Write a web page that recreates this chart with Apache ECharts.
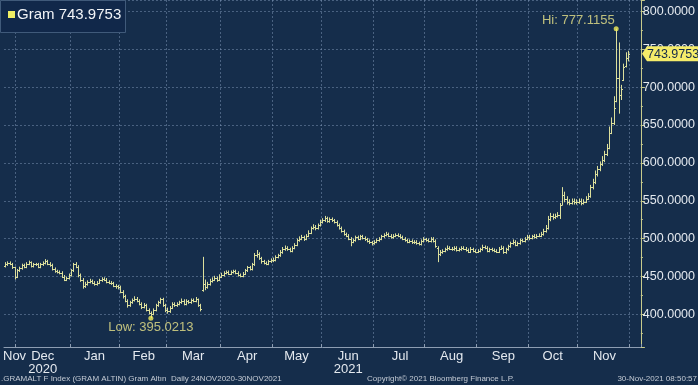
<!DOCTYPE html>
<html><head><meta charset="utf-8">
<script src="https://cdn.jsdelivr.net/npm/echarts@6/dist/echarts.min.js"></script>
<style>html,body{margin:0;padding:0;background:#152d4b;}#c{width:698px;height:385px;}</style>
</head><body><div id="c"></div>
<script>
// ---- data: daily OHLC, Gram Altin (TRY), 24 Nov 2020 - 30 Nov 2021 (weekdays) ----
const openVals = [
  464,466,468,467,462,
  450,458,461,465,463,467,469,464,466,466,463,466,468,470,467,465,460,457,456,455,450,446,448,
  452,458,466,463,452,446,438,440,443,444,442,440,442,445,447,446,443,442,441,438,437,
  436,430,424,418,412,416,419,421,418,414,410,412,406,402,400,406,412,416,420,412,
  406,404,409,414,412,414,416,418,414,418,416,419,418,420,412,432,440,436,440,444,446,448,446,
  450,452,455,456,454,456,457,455,452,451,454,458,462,460,466,478,480,474,470,468,467,470,
  472,472,476,478,482,486,488,486,484,488,492,498,500,502,500,504,508,514,516,514,518,
  522,524,527,523,526,524,522,518,514,510,506,504,500,496,498,502,500,503,501,499,497,495,
  494,496,498,500,503,505,506,504,502,504,505,504,502,500,498,496,497,495,496,494,493,497,
  499,498,497,500,497,488,480,482,484,486,488,487,486,488,485,486,488,487,485,483,486,484,
  483,484,486,489,488,484,486,485,484,483,487,488,482,486,490,494,496,492,494,498,497,500,
  502,501,503,502,504,504,506,510,514,526,530,528,530,531,545,558,552,549,547,550,548,
  549,550,547,549,553,556,568,575,585,592,598,604,612,620,640,652,682,712,690,710,728,738
];
const highVals = [
  469,470,470,468,463,
  460,463,467,467,469,471,470,468,468,468,468,470,473,472,469,467,462,459,458,457,452,450,454,
  460,468,469,465,454,448,443,445,447,446,444,444,447,449,449,448,445,444,443,440,439,
  438,432,426,420,418,421,424,423,420,416,415,414,408,404,408,414,418,422,422,414,
  409,411,416,416,416,418,421,420,420,419,421,421,423,421,414,476,446,443,447,449,451,450,453,
  455,457,458,458,458,459,459,457,454,456,460,464,464,468,481,485,482,476,472,470,472,474,
  475,478,480,485,489,491,490,488,490,494,500,503,505,504,506,511,516,519,518,520,525,
  527,530,529,528,528,526,524,520,516,512,508,506,502,500,504,504,505,505,503,501,499,497,
  498,500,502,505,507,509,508,506,506,507,507,506,504,502,500,499,499,498,498,496,499,502,
  501,500,502,502,499,490,485,486,488,491,490,489,490,490,488,490,490,489,487,489,488,486,
  486,488,492,491,490,488,488,487,486,489,491,490,488,492,496,499,498,496,500,500,502,505,
  505,505,506,506,507,509,513,518,530,534,533,533,535,547,568,562,556,552,553,553,552,
  553,553,552,556,560,571,579,590,596,602,609,616,625,648,660,688,777.1155,759,703,731,746,748
];
const lowVals = [
  462,464,465,460,446,
  448,456,459,461,461,465,462,462,464,461,461,464,466,465,463,458,455,454,453,448,444,444,446,
  450,456,461,449,443,434,435,438,441,440,438,438,440,443,444,441,440,439,436,434,433,
  428,421,416,409,410,414,417,416,412,407,408,404,400,395.0213,399,404,410,414,410,403,
  401,402,407,410,410,412,414,412,412,414,414,416,416,410,404,430,432,434,438,442,444,443,444,
  448,450,453,452,452,454,453,450,449,449,452,456,458,458,464,475,472,467,466,465,465,468,
  469,470,474,476,480,484,484,482,482,486,490,496,498,497,498,502,506,512,511,512,516,
  520,522,521,521,522,520,516,512,508,504,502,498,490,494,496,498,498,499,497,495,493,491,
  492,494,496,498,501,503,502,500,500,502,502,500,498,496,494,494,493,493,492,491,491,495,
  496,495,495,495,488,469,477,480,482,484,485,484,484,483,483,484,485,483,481,481,482,481,
  481,482,484,486,482,482,483,482,481,481,485,480,480,484,488,492,490,490,492,495,495,498,
  498,499,500,500,502,502,504,508,512,523,525,526,528,526,544,548,545,544,545,545,545,
  546,544,545,547,551,554,565,572,582,589,596,601,609,618,638,650,680,665,683,708,726,734
];
const closeVals = [
  466,468,467,462,450,
  458,461,465,463,467,469,464,466,466,463,466,468,470,467,465,460,457,456,455,450,446,448,452,
  458,466,463,452,446,438,440,443,444,442,440,442,445,447,446,443,442,441,438,437,436,
  430,424,418,412,416,419,421,418,414,410,412,406,402,400,406,412,416,420,412,406,
  404,409,414,412,414,416,418,414,418,416,419,418,420,412,407,440,436,440,444,446,448,446,450,
  452,455,456,454,456,457,455,452,451,454,458,462,460,466,478,480,474,470,468,467,470,472,
  472,476,478,482,486,488,486,484,488,492,498,500,502,500,504,508,514,516,514,518,522,
  524,527,523,526,524,522,518,514,510,506,504,500,496,498,502,500,503,501,499,497,495,494,
  496,498,500,503,505,506,504,502,504,505,504,502,500,498,496,497,495,496,494,493,497,499,
  498,497,500,497,490,480,482,484,486,488,487,486,488,485,486,488,487,485,483,486,484,483,
  484,486,489,488,484,486,485,484,483,487,488,482,486,490,494,496,492,494,498,497,500,502,
  501,503,502,504,504,506,510,514,526,530,528,530,531,545,558,552,549,547,550,548,549,
  550,547,549,553,556,568,575,585,592,598,604,612,620,640,652,672,712,690,698,726,738,743.9753
];
// tick labels
const monthLabels = ['Nov','Dec','Jan','Feb','Mar','Apr','May','Jun','Jul','Aug','Sep','Oct','Nov'];
const yearLabels  = ['','2020','','','','','','2021','','','','',''];
const seriesName = 'Gram';
const footerLeft = '.GRAMALT F Index (GRAM ALTIN) Gram Altın  Daily 24NOV2020-30NOV2021';
const footerMid = 'Copyright\u00A9 2021 Bloomberg Finance L.P.';
const footerRight = '30-Nov-2021 08:50:57';

// ---- weekday categories ----
const dates = [];
(function(){
  let t = Date.UTC(2020,10,24);
  const end = Date.UTC(2021,10,30);
  let pad = 0;
  while (true) {
    const d = new Date(t);
    const wd = d.getUTCDay();
    if (wd !== 0 && wd !== 6) {
      if (t <= end) dates.push(d.toISOString().slice(0,10));
      else { if (pad >= 5) break; dates.push(d.toISOString().slice(0,10)); pad++; }
    }
    t += 86400000;
  }
})();
const nData = closeVals.length;
const monthStart = new Set();
const labelMap = new Map();
(function(){
  let groups = [];
  for (let i = 0; i < dates.length; i++) {
    const m = dates[i].slice(0,7);
    if (i === 0 || m !== dates[i-1].slice(0,7)) {
      if (i > 0) monthStart.add(i);
      groups.push({f:i, l:i});
    } else groups[groups.length-1].l = i;
  }
  groups.forEach((g, k) => {
    if (k >= monthLabels.length) return;
    const idx = k === 0 ? g.l : Math.round((g.f + g.l) / 2);
    labelMap.set(idx, monthLabels[k] + (yearLabels[k] ? '\n' + yearLabels[k] : ''));
  });
})();

const ohlc = closeVals.map((c, i) => [i, openVals[i], highVals[i], lowVals[i], c]);
let hiIdx = 0, loIdx = 0;
highVals.forEach((v,i)=>{ if (v > highVals[hiIdx]) hiIdx = i; });
lowVals.forEach((v,i)=>{ if (v < lowVals[loIdx]) loIdx = i; });
const lastVal = closeVals[nData-1];

const FONT = 'Liberation Sans, Arial, sans-serif';
const BAR = '#dcdf9c';
const GRIDC = 'rgba(140,165,195,0.45)';
const chart = echarts.init(document.getElementById('c'), null, {renderer:'canvas'});
chart.setOption({
  backgroundColor: '#152d4b',
  animation: false,
  grid: {left: 0, right: 57, top: 0, bottom: 38},
  xAxis: {
    type: 'category', data: dates, boundaryGap: true,
    axisLine: {lineStyle: {color: '#8d9db2', width: 1}},
    axisTick: {show: true, inside: true, length: 3, interval: (i) => monthStart.has(i), lineStyle: {color: '#8d9db2'}},
    axisLabel: {interval: (i) => labelMap.has(i), formatter: (v, i) => labelMap.get(i) || '',
      color: '#e4e9ef', fontSize: 13, lineHeight: 13, margin: 3, fontFamily: FONT},
    splitLine: {show: true, interval: (i) => monthStart.has(i), lineStyle: {color: GRIDC, type: [2,2], width: 1}}
  },
  yAxis: {
    type: 'value', position: 'right', min: 357, max: 815, splitNumber: 9, minInterval: 50, maxInterval: 50,
    axisLine: {show: true, lineStyle: {color: '#c8cb8c'}},
    axisTick: {show: true, length: 4, lineStyle: {color: '#c8cb8c'}},
    minorTick: {show: true, splitNumber: 2, length: 2, lineStyle: {color: '#c8cb8c'}},
    axisLabel: {formatter: (v) => v.toFixed(4), showMinLabel: false, showMaxLabel: false,
      color: '#e4e9ef', fontSize: 12.5, margin: 2, fontFamily: FONT},
    splitLine: {show: true, lineStyle: {color: GRIDC, type: [2,2], width: 1}}
  },
  series: [
    {
      type: 'custom', name: seriesName, data: ohlc, encode: {x: 0, y: [1,2,3,4]},
      renderItem: function (params, api) {
        const i = api.value(0);
        const pO = api.coord([i, api.value(1)]);
        const pH = api.coord([i, api.value(2)]);
        const pL = api.coord([i, api.value(3)]);
        const pC = api.coord([i, api.value(4)]);
        const w = 1;
        const x = Math.round(pH[0]) + 0.5;
        const st = {stroke: BAR, lineWidth: 1};
        return {type: 'group', children: [
          {type: 'line', shape: {x1: x, y1: pH[1], x2: x, y2: pL[1]}, style: st},
          {type: 'line', shape: {x1: x - w - 0.5, y1: Math.round(pO[1]) + 0.5, x2: x, y2: Math.round(pO[1]) + 0.5}, style: st},
          {type: 'line', shape: {x1: x, y1: Math.round(pC[1]) + 0.5, x2: x + w + 0.5, y2: Math.round(pC[1]) + 0.5}, style: st}
        ]};
      }
    },
    {
      type: 'scatter', symbol: 'circle', symbolSize: 5, itemStyle: {color: '#f4ef5a'}, z: 5,
      data: [
        {value: [hiIdx, highVals[hiIdx]], label: {show: true, position: 'left', distance: 0, offset: [1, -8],
          formatter: 'Hi: ' + highVals[hiIdx].toFixed(4), color: '#e8e48a', fontSize: 13, fontFamily: FONT}},
        {value: [loIdx, lowVals[loIdx]], label: {show: true, position: 'bottom', distance: 0,
          formatter: 'Low: ' + lowVals[loIdx].toFixed(4), color: '#e8e48a', fontSize: 13, fontFamily: FONT}}
      ]
    }
  ],
  graphic: [
    {type: 'rect', id: 'tbox', left: 0, top: 0, shape: {width: 125, height: 32}, style: {fill: '#11284a', stroke: '#405a7a', lineWidth: 1}, z: 50},
    {type: 'rect', id: 'tsq', left: 8, top: 11, shape: {width: 7, height: 7}, style: {fill: '#f0ee64'}, z: 51},
    {type: 'text', id: 'ttxt', left: 17, top: 7, style: {text: seriesName + ' ' + lastVal.toFixed(4), fill: '#f2f4f7', fontSize: 15, fontFamily: FONT}, z: 51},
    {type: 'text', id: 'f1', left: 1, top: 375, style: {text: footerLeft, fill: '#c3cad4', fontSize: 8, fontFamily: FONT}, z: 51},
    {type: 'text', id: 'f2', left: 367, top: 375, style: {text: footerMid, fill: '#c3cad4', fontSize: 8, fontFamily: FONT}, z: 51},
    {type: 'text', id: 'f3', right: 1, top: 375, style: {text: footerRight, fill: '#c3cad4', fontSize: 8, fontFamily: FONT}, z: 51}
  ]
});
// last-price tag on the right axis
const ty = chart.convertToPixel({yAxisIndex: 0}, lastVal);
const ax = 642;
chart.setOption({graphic: [
  {type: 'polygon', id: 'tag', shape: {points: [[ax, ty], [ax + 5, ty - 7.5], [698, ty - 7.5], [698, ty + 7.5], [ax + 5, ty + 7.5]]},
    style: {fill: '#f5ec6a'}, z: 60},
  {type: 'text', id: 'tagt', x: 647, y: ty + 0.5, style: {text: lastVal.toFixed(4), fill: '#13294a', fontSize: 12.5, fontFamily: FONT, verticalAlign: 'middle'}, z: 61}
]});
</script></body></html>
